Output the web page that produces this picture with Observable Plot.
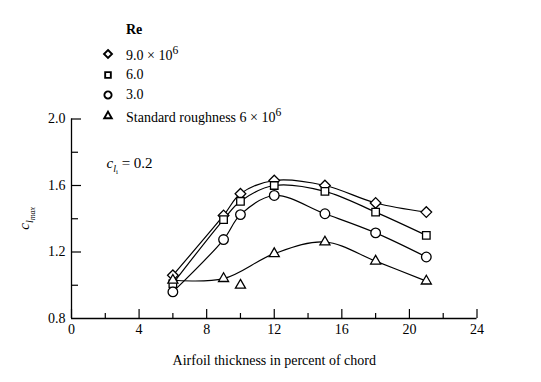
<!DOCTYPE html>
<html><head><meta charset="utf-8">
<script src="https://cdn.jsdelivr.net/npm/d3@7"></script>
<script src="https://cdn.jsdelivr.net/npm/@observablehq/plot@0.6"></script>
<style>
body{margin:0;background:#fff;font-family:"Liberation Serif","DejaVu Serif",serif;color:#000;}
#wrap{position:relative;width:541px;height:382px;overflow:hidden;}
#chart{position:absolute;left:0;top:0;}
#legend{position:absolute;left:0;top:0;width:541px;height:125px;pointer-events:none;}
.row{position:absolute;left:100px;height:18px;display:flex;align-items:center;font-size:14px;white-space:nowrap;}
.row svg{width:16px;height:16px;margin-right:10px;overflow:visible;}
.title{position:absolute;left:126px;top:22px;font-size:14px;font-weight:bold;}
</style></head><body>
<div id="wrap"><div id="chart"></div><div id="legend"></div></div>
<script>
// Data
const thickness = [6, 9, 10, 12, 15, 18, 21];
const re9 = [1.06, 1.42, 1.55, 1.63, 1.60, 1.495, 1.44];
const re6 = [1.01, 1.395, 1.505, 1.60, 1.565, 1.44, 1.30];
const re3 = [0.96, 1.275, 1.425, 1.54, 1.43, 1.315, 1.17];
const rough = [1.03, 1.04, 1.00, 1.19, 1.26, 1.145, 1.025];
const roughOutlierThickness = 10; // plotted, but not joined by the curve
const seriesKeys = ["re9", "re6", "re3", "rough"];
const seriesLabels = ["9.0 × 10<sup>6</sup>", "6.0", "3.0", "Standard roughness 6 × 10<sup>6</sup>"];
const seriesSymbols = ["diamond2", "square2", "circle", "triangle2"];
const xTicksMajor = [0, 4, 8, 12, 16, 20, 24];
const xTicksMinor = [2, 6, 10, 14, 18, 22];
const yTickLabels = [0.8, 1.2, 1.6, 2.0];
const yTicksMajor = [1.2, 1.6, 2.0];
const yTicksMinor = [1.0, 1.4, 1.8];
const xTitle = "Airfoil thickness in percent of chord";

const values = {re9, re6, re3, rough};
const rows = [];
seriesKeys.forEach(k => thickness.forEach((t, i) => rows.push({t, v: values[k][i], s: k})));
const lineRows = rows.filter(d => !(d.s === "rough" && d.t === roughOutlierThickness));

const font = "'Liberation Serif', 'DejaVu Serif', serif";
const plot = Plot.plot({
  width: 541, height: 382,
  marginTop: 118.5, marginBottom: 64, marginLeft: 71, marginRight: 64.5,
  style: {fontFamily: font, fontSize: "14px", background: "white", color: "black", overflow: "visible"},
  x: {domain: [0, 24]},
  y: {domain: [0.8, 2.0]},
  symbol: {domain: seriesKeys, range: seriesSymbols},
  marks: [
    Plot.ruleX([0], {y1: 0.8, y2: 2.0, strokeWidth: 1.3}),
    Plot.ruleY([0.8], {x1: 0, x2: 24, strokeWidth: 1.3}),
    Plot.ruleX(xTicksMajor, {x: d => d, y1: 0.8, y2: 0.8, insetTop: -9, strokeWidth: 1.2}),
    Plot.ruleX(xTicksMinor, {x: d => d, y1: 0.8, y2: 0.8, insetTop: -5, strokeWidth: 1.2}),
    Plot.ruleY(yTicksMajor, {y: d => d, x1: 0, x2: 0, insetRight: -10, strokeWidth: 1.2}),
    Plot.ruleY(yTicksMinor, {y: d => d, x1: 0, x2: 0, insetRight: -7, strokeWidth: 1.2}),
    Plot.axisX({ticks: xTicksMajor, tickSize: 0, tickPadding: 6, tickFormat: d => String(d), label: null}),
    Plot.axisY({ticks: yTickLabels, tickSize: 0, tickPadding: 6, tickFormat: d3.format(".1f"), label: null}),
    Plot.text([xTitle], {frameAnchor: "bottom", dy: 42, text: d => d, lineAnchor: "middle", fontSize: 14}),
    Plot.line(lineRows, {x: "t", y: "v", z: "s", curve: "catmull-rom", stroke: "black", strokeWidth: 1.2}),
    Plot.dot(rows, {x: "t", y: "v", symbol: "s", r: 4.8, fill: "white", stroke: "black", strokeWidth: 1.3})
  ]
});
document.getElementById("chart").appendChild(plot);

// rich-text labels (subscripts) positioned through the plot's scales
const sx = plot.scale("x"), sy = plot.scale("y");
const svg = d3.select(plot);
const yl = svg.append("text")
  .attr("transform", `translate(29,${sy.apply(1.4)}) rotate(-90)`)
  .attr("text-anchor", "middle").attr("font-family", font).attr("font-size", 15);
yl.append("tspan").attr("font-style", "italic").text("c");
yl.append("tspan").attr("font-style", "italic").attr("font-size", 10).attr("dy", 4).text("l");
yl.append("tspan").attr("font-style", "italic").attr("font-size", 8).attr("dy", 2).text("max");

const an = svg.append("text")
  .attr("x", sx.apply(2.1)).attr("y", sy.apply(1.7))
  .attr("text-anchor", "start")
  .attr("font-family", font).attr("font-size", 15);
an.append("tspan").attr("font-style", "italic").text("c");
an.append("tspan").attr("font-style", "italic").attr("font-size", 10).attr("dy", 4).text("l");
an.append("tspan").attr("font-size", 7).attr("dy", 2).text("i");
an.append("tspan").attr("dy", -6).text(" = 0.2");

// legend
const legend = document.getElementById("legend");
const t = document.createElement("div"); t.className = "title"; t.textContent = "Re"; legend.appendChild(t);
const rowCenters = [54, 74.5, 95, 115.5];
const symMap = {diamond2: d3.symbolDiamond2, square2: d3.symbolSquare2, circle: d3.symbolCircle, triangle2: d3.symbolTriangle2};
seriesKeys.forEach((k, i) => {
  const r = document.createElement("div"); r.className = "row";
  r.style.top = (rowCenters[i] - 9) + "px";
  const path = d3.symbol(symMap[seriesSymbols[i]], 3.6 * 3.6 * Math.PI)();
  r.innerHTML = `<svg viewBox="-8 -8 16 16"><path d="${path}" fill="white" stroke="black" stroke-width="1.9"/></svg><span>${seriesLabels[i]}</span>`;
  legend.appendChild(r);
});
</script></body></html>
